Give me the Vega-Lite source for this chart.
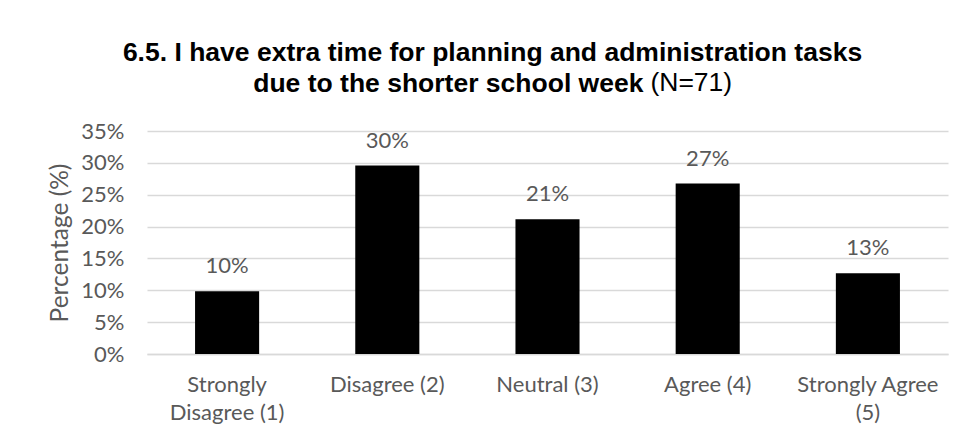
{
  "$schema": "https://vega.github.io/schema/vega-lite/v6.json",
  "autosize": "none",
  "width": 801,
  "height": 223,
  "padding": {"left": 147, "top": 131, "right": 14, "bottom": 82},
  "background": "#ffffff",
  "title": {
    "text": ["6.5. I have extra time for planning and administration tasks", "due to the shorter school week\u00a0\u00a0\u00a0\u00a0\u00a0\u00a0\u00a0\u00a0\u00a0\u00a0\u00a0\u00a0\u200b"],
    "subtitle": "\u200b\u00a0\u00a0\u00a0\u00a0\u00a0\u00a0\u00a0\u00a0\u00a0\u00a0\u00a0\u00a0\u00a0\u00a0\u00a0\u00a0\u00a0\u00a0\u00a0\u00a0\u00a0\u00a0\u00a0\u00a0\u00a0\u00a0\u00a0\u00a0\u00a0\u00a0\u00a0\u00a0\u00a0\u00a0\u00a0\u00a0\u00a0\u00a0\u00a0\u00a0\u00a0\u00a0\u00a0\u00a0\u00a0\u00a0\u00a0\u00a0\u00a0\u00a0\u00a0\u00a0\u00a0\u00a0(N=71)",
    "font": "Liberation Sans",
    "fontSize": 26.5,
    "fontWeight": "bold",
    "color": "#000000",
    "lineHeight": 31,
    "subtitleFont": "Liberation Sans",
    "subtitleFontSize": 26.5,
    "subtitleFontWeight": "normal",
    "subtitleColor": "#000000",
    "subtitleLineHeight": 31,
    "subtitlePadding": -27,
    "anchor": "middle",
    "dx": -55,
    "offset": 23
  },
  "data": {
    "values": [
      {"response": "Strongly|Disagree (1)", "pct": 0.0986},
      {"response": "Disagree (2)", "pct": 0.2958},
      {"response": "Neutral (3)", "pct": 0.2113},
      {"response": "Agree (4)", "pct": 0.2676},
      {"response": "Strongly Agree|(5)", "pct": 0.1268}
    ]
  },
  "encoding": {
    "x": {
      "field": "response",
      "type": "nominal",
      "sort": null,
      "scale": {"paddingInner": 0.6, "paddingOuter": 0.3},
      "axis": {
        "title": null,
        "labelAngle": 0,
        "labelExpr": "split(datum.label, '|')",
        "labelFont": "Lato",
        "labelFontSize": 22,
        "labelColor": "#595959",
        "labelLineHeight": 28,
        "labelPadding": 20,
        "ticks": false,
        "domainColor": "#d9d9d9",
        "domainWidth": 1.3,
        "labelLimit": 300
      }
    },
    "y": {
      "field": "pct",
      "type": "quantitative",
      "scale": {"domain": [0, 0.35], "nice": false},
      "axis": {
        "title": "Percentage (%)",
        "values": [0, 0.05, 0.1, 0.15, 0.2, 0.25, 0.3, 0.35],
        "format": ".0%",
        "labelFont": "Lato",
        "labelFontSize": 22,
        "labelColor": "#595959",
        "labelPadding": 23,
        "ticks": false,
        "domain": false,
        "grid": true,
        "gridColor": "#d9d9d9",
        "gridWidth": 1.3,
        "titleFont": "Lato",
        "titleFontSize": 24.5,
        "titleFontWeight": "normal",
        "titleColor": "#595959",
        "titlePadding": 8
      }
    }
  },
  "layer": [
    {"mark": {"type": "bar", "color": "#000000"}},
    {
      "mark": {"type": "text", "font": "Lato", "fontSize": 22, "color": "#595959", "baseline": "alphabetic", "dy": -18},
      "encoding": {"text": {"field": "pct", "type": "quantitative", "format": ".0%"}}
    }
  ],
  "config": {"view": {"stroke": null}}
}
